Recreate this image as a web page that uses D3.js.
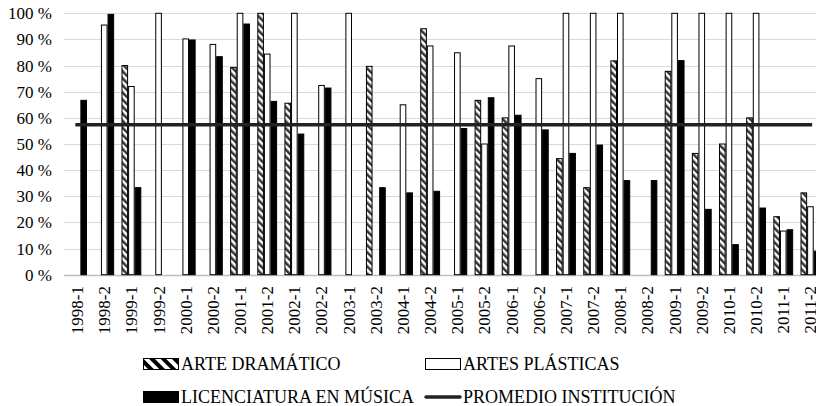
<!DOCTYPE html>
<html>
<head>
<meta charset="utf-8">
<script src="https://cdn.jsdelivr.net/npm/d3@7"></script>
<style>
  body { margin: 0; background: #fff; overflow: hidden; }
  svg { display: block; font-family: "Liberation Serif", "Times New Roman", serif; }
</style>
</head>
<body>
<svg id="chart" width="816" height="406"></svg>
<script>
var categories = ["1998-1","1998-2","1999-1","1999-2","2000-1","2000-2","2001-1","2001-2",
  "2002-1","2002-2","2003-1","2003-2","2004-1","2004-2","2005-1","2005-2","2006-1","2006-2",
  "2007-1","2007-2","2008-1","2008-2","2009-1","2009-2","2010-1","2010-2","2011-1","2011-2"];

var arteDramatico = [null,null,80,null,null,null,79.3,100,65.6,null,null,79.7,null,94.1,
  null,66.7,60,null,44.4,33.3,81.8,null,77.8,46.4,50,60,22.2,31.3];
var artesPlasticas = [null,95.5,72,100,90.2,88.1,100,84.4,100,72.4,100,null,65,87.5,
  84.9,50,87.5,75,100,100,100,null,100,100,100,100,16.7,26];
var licMusica = [66.7,99.6,33.3,null,89.8,83.4,95.9,66.3,53.8,71.4,null,33.3,31.3,31.9,
  55.9,67.7,61,55.4,46.4,49.6,36,36,81.9,25,11.5,25.5,17.2,9];
var promedio = 57.4;

var seriesNames = ["ARTE DRAMÁTICO", "ARTES PLÁSTICAS", "LICENCIATURA EN MÚSICA"];
var seriesValues = [arteDramatico, artesPlasticas, licMusica];
var yTicks = [0,10,20,30,40,50,60,70,80,90,100];

var svg = d3.select("#chart");

// diagonal hatch, one small for bars and one wider for the legend
var defs = svg.append("defs");
function makeHatch(id, size, ink) {
  var p = defs.append("pattern")
      .attr("id", id)
      .attr("patternUnits", "userSpaceOnUse")
      .attr("width", size)
      .attr("height", size)
      .attr("patternTransform", "rotate(-45)");
  p.append("rect").attr("width", size).attr("height", size).attr("fill", "#fff");
  p.append("rect").attr("width", size / 2).attr("height", size).attr("fill", ink);
}
makeHatch("hatch", 5, "#333");
makeHatch("hatchLeg", 8, "#000");

var fills = ["url(#hatch)", "#fff", "#000"];

var x = d3.scaleBand()
    .domain(categories)
    .range([63.5, 824])
    .paddingInner(0.27)
    .paddingOuter(0.135);

var xs = d3.scaleBand()
    .domain(d3.range(3))
    .range([0, x.bandwidth()]);

var y = d3.scaleLinear()
    .domain([0, 100])
    .range([274.7, 13.3]);

// gridlines
svg.append("g")
  .selectAll("line")
  .data(yTicks)
  .enter().append("line")
    .attr("x1", 64)
    .attr("x2", 816)
    .attr("y1", function(d) { return Math.round(y(d)) + 0.5; })
    .attr("y2", function(d) { return Math.round(y(d)) + 0.5; })
    .attr("stroke", function(d) { return d === 0 ? "#bfbfbf" : "#d9d9d9"; })
    .attr("stroke-width", function(d) { return d === 0 ? 1.5 : 1; });

// y labels
svg.append("g")
  .selectAll("text")
  .data(yTicks)
  .enter().append("text")
    .attr("x", 52)
    .attr("y", function(d) { return y(d); })
    .attr("dy", "0.35em")
    .attr("text-anchor", "end")
    .attr("font-size", 17)
    .text(function(d) { return d + " %"; });

// bars
var groups = svg.append("g")
  .selectAll("g")
  .data(seriesValues)
  .enter().append("g")
    .attr("fill", function(d, i) { return fills[i]; });

groups.each(function(vals, si) {
  d3.select(this).selectAll("rect")
    .data(vals.map(function(v, i) { return {cat: categories[i], v: v}; })
      .filter(function(d) { return d.v != null; }))
    .enter().append("rect")
      .attr("x", function(d) { return x(d.cat) + xs(si) + 0.5; })
      .attr("y", function(d) { return y(d.v); })
      .attr("width", xs.bandwidth() - 1)
      .attr("height", function(d) { return y(0) - y(d.v); })
      .attr("stroke", "#000")
      .attr("stroke-width", 1);
});

// promedio line
svg.append("line")
    .attr("x1", x(categories[0]) + x.bandwidth() / 2)
    .attr("x2", x(categories[categories.length - 1]) + x.bandwidth() / 2)
    .attr("y1", y(promedio))
    .attr("y2", y(promedio))
    .attr("stroke", "#222")
    .attr("stroke-width", 3.5)
    .attr("stroke-linecap", "square");

// x labels
svg.append("g")
  .selectAll("text")
  .data(categories)
  .enter().append("text")
    .attr("transform", function(d) {
      return "translate(" + (x(d) + x.bandwidth() / 2) + ",286) rotate(-90)";
    })
    .attr("dy", "0.35em")
    .attr("text-anchor", "end")
    .attr("font-size", 17)
    .text(function(d) { return d; });

// legend
var legendItems = [
  {name: seriesNames[0], fill: "url(#hatchLeg)", x: 143, y: 364},
  {name: seriesNames[1], fill: fills[1], x: 425, y: 364},
  {name: seriesNames[2], fill: fills[2], x: 143, y: 397}
];

var legend = svg.append("g")
  .selectAll("g")
  .data(legendItems)
  .enter().append("g")
    .attr("transform", function(d) { return "translate(" + d.x + "," + d.y + ")"; });

legend.append("rect")
    .attr("x", 0.5)
    .attr("y", -5.5)
    .attr("width", 35)
    .attr("height", 11)
    .attr("fill", function(d) { return d.fill; })
    .attr("stroke", "#000");

legend.append("text")
    .attr("x", 38)
    .attr("dy", "0.35em")
    .attr("font-size", 18)
    .text(function(d) { return d.name; });

var promLeg = svg.append("g").attr("transform", "translate(425,397)");
promLeg.append("line")
    .attr("x1", 1).attr("x2", 35)
    .attr("stroke", "#222")
    .attr("stroke-width", 3.5)
    .attr("stroke-linecap", "round");
promLeg.append("text")
    .attr("x", 38)
    .attr("dy", "0.35em")
    .attr("font-size", 18)
    .text("PROMEDIO INSTITUCIÓN");
</script>
</body>
</html>
